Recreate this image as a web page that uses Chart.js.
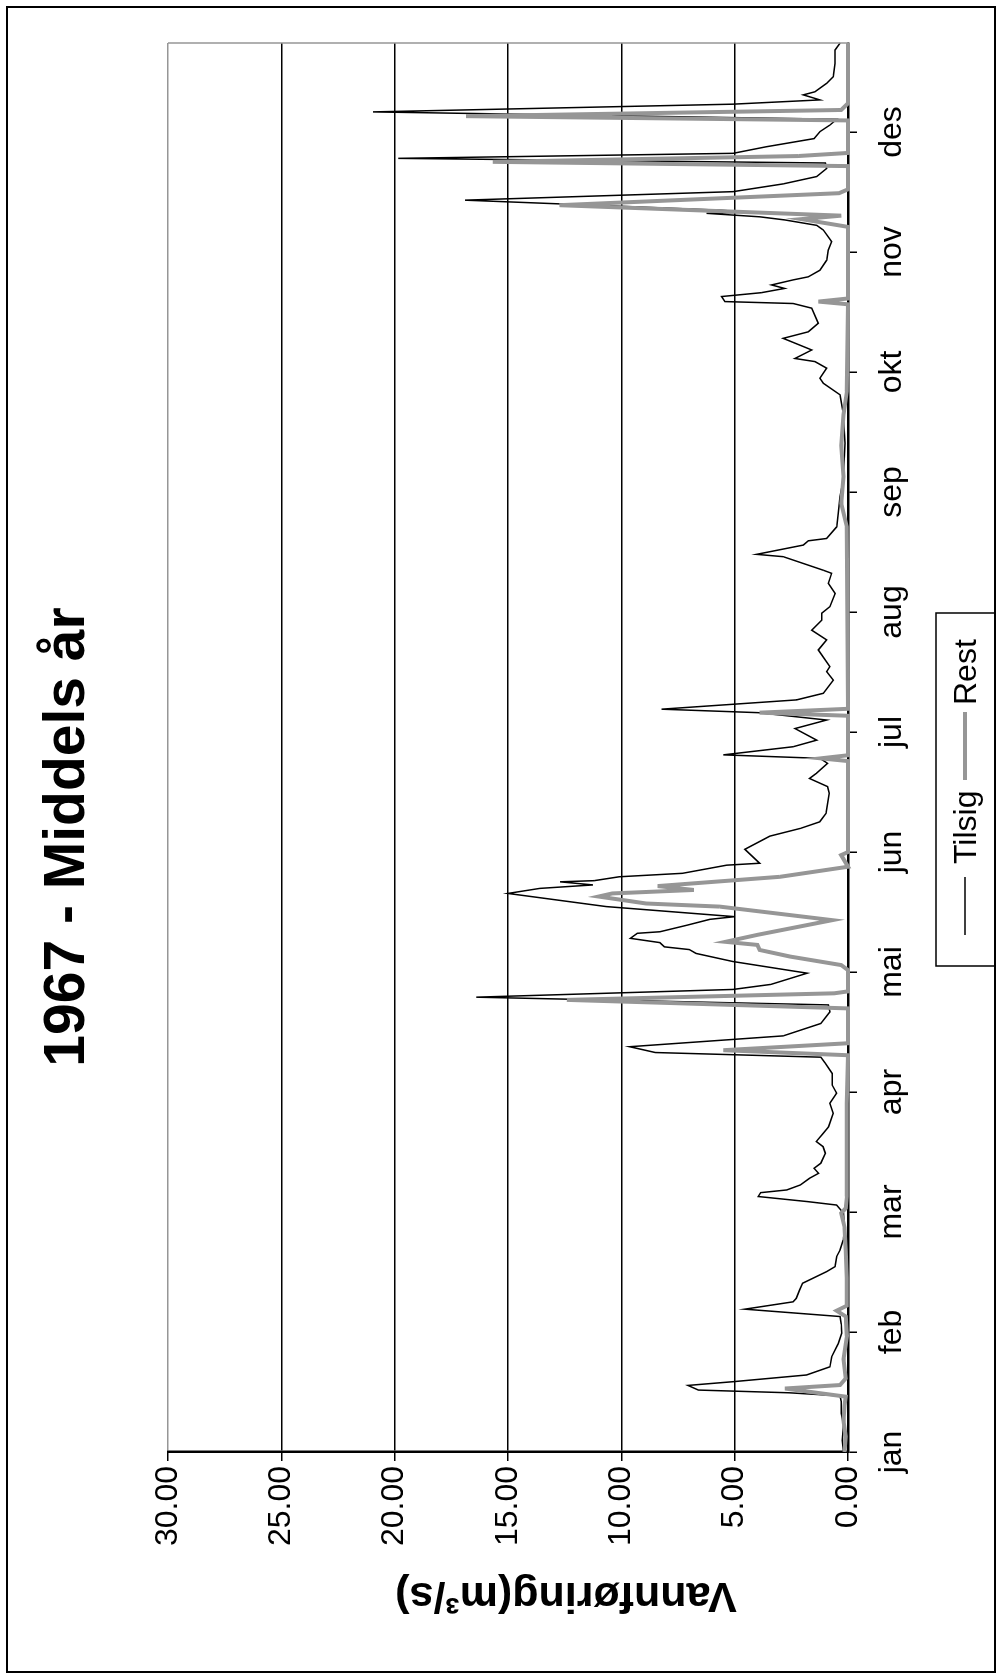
<!DOCTYPE html>
<html>
<head>
<meta charset="utf-8">
<title>1967 - Middels år</title>
<script src="https://cdn.jsdelivr.net/npm/chart.js@4.4.0/dist/chart.umd.min.js"></script>
<style>
  html, body { margin: 0; padding: 0; background: #fff; overflow: hidden; }
  body { width: 1000px; height: 1679px; position: relative; }
  /* chart is laid out landscape and turned a quarter turn, like the original */
  #wrap {
    position: absolute; left: 0; top: 0;
    width: 1679px; height: 1000px;
    transform-origin: 0 0;
    transform: translate(0, 1679px) rotate(-90deg);
  }
</style>
</head>
<body>
<div id="wrap"><canvas id="chart" width="1679" height="1000"></canvas></div>
<script>
// month labels, one tick every 31 days
const monthNames = ['jan', 'feb', 'mar', 'apr', 'mai', 'jun', 'jul', 'aug', 'sep', 'okt', 'nov', 'des'];
const monthTicks = [0, 31, 62, 93, 124, 155, 186, 217, 248, 279, 310, 341];
const valueTicks = [0, 5, 10, 15, 20, 25, 30];

// Tilsig (day of year, m3/s)
const tilsigDays = [0, 3, 7, 10, 13, 14.5, 15.3, 16, 17.2, 18.2, 19.9, 22, 24.6, 28, 30.7, 33, 35, 36.9, 38.8, 39.7,
  41.8, 43.6, 46.6, 47.9, 50.5, 52.2, 54.8, 57.3, 61.7, 63.8, 64.7, 66, 67, 67.7, 69, 70.7, 72, 73.3, 74.6, 77.2,
  78.9, 80.2, 82.3, 84, 87.5, 90.1, 92.7, 94.8, 97.8, 100.4, 102, 103.2, 104.7, 107.5, 110.7, 113.7, 115.5, 117.5, 119.5, 120.8,
  123.7, 126.7, 128.8, 129.8, 130.5, 131.6, 132.7, 134, 134.4, 136.1, 137.6, 138.3, 140.9, 144.3, 145.6, 146.5, 147.3, 147.6, 148.6, 149.5,
  151.6, 152.1, 155.7, 159.1, 161.1, 162.8, 165, 170.2, 171.9, 174, 175.3, 177.9, 179.2, 180.1, 182.2, 183.9, 186.9, 189.1, 191, 191.9,
  194.3, 196, 199.4, 201.6, 202.9, 207.2, 209.8, 212.3, 214.9, 216.7, 218.4, 221.8, 224.4, 227, 227.8, 231.3, 231.9, 234.3, 235.4, 236,
  239, 242.5, 246.8, 251.1, 260.6, 268.3, 273.1, 276.1, 277.4, 280, 281.7, 282.5, 284.7, 287.7, 289.4, 291.6, 295.5, 296.7, 297.2, 298.5,
  299.5, 300.6, 301.5, 302.8, 303.6, 305.3, 307.9, 310.5, 312.7, 315.7, 316.9, 318.3, 319.1, 320, 320.3, 320.8, 323.4, 325.6, 327.6, 329.5,
  331.6, 333, 334.2, 335.5, 337.2, 339.3, 341.1, 342.8, 344.3, 346.2, 348.2, 349.3, 350.6, 351.4, 353.6, 355.3, 358.7, 362.2, 364];
const tilsigValues = [0.2, 0.25, 0.2, 0.3, 0.3, 0.35, 2.6, 6.6, 7.06, 5.0, 1.83, 0.8, 0.72, 0.43, 0.28, 0.3, 0.35, 4.55, 2.42, 2.28,
  2.14, 2.0, 0.94, 0.57, 0.5, 0.35, 0.21, 0.15, 0.2, 0.5, 1.8, 3.96, 3.85, 2.7, 2.1, 1.7, 1.3, 1.5, 1.2, 1.0,
  1.1, 1.4, 1.1, 0.86, 0.65, 0.8, 0.5, 0.7, 0.7, 1.0, 1.2, 8.5, 9.63, 2.86, 1.2, 0.8, 0.87, 16.4, 5.07, 3.4,
  1.8, 5.07, 6.7, 7.0, 8.1, 8.3, 9.6, 9.3, 8.3, 7.1, 6.1, 5.0, 10.66, 15.0, 13.6, 11.25, 12.7, 11.2, 10.1, 7.3,
  5.36, 3.9, 4.55, 3.45, 2.1, 1.25, 0.97, 0.83, 0.9, 1.7, 1.4, 0.9, 1.24, 5.5, 2.42, 1.38, 2.34, 0.94, 3.96, 8.23,
  2.27, 1.09, 0.65, 0.94, 0.8, 1.31, 0.94, 1.6, 1.16, 1.16, 0.8, 0.57, 0.87, 0.72, 1.09, 2.86, 4.03, 1.97, 1.75, 0.94,
  0.5, 0.43, 0.35, 0.21, 0.13, 0.21, 0.35, 1.09, 1.24, 0.94, 1.46, 2.34, 1.6, 2.86, 1.75, 1.31, 1.6, 2.42, 5.43, 5.58,
  3.82, 2.8, 3.37, 2.42, 1.75, 1.24, 0.94, 0.87, 0.72, 1.09, 1.38, 2.8, 3.9, 6.24, 4.5, 5.6, 16.9, 5.07, 2.86, 1.38,
  0.94, 1.0, 19.84, 5.07, 3.6, 1.5, 1.24, 0.8, 0.5, 20.96, 5.07, 1.24, 1.97, 1.46, 0.94, 0.65, 0.57, 0.57, 0.35];

// Rest (day of year, m3/s)
const restDays = [0, 4, 8, 12, 14.3, 16.4, 17.3, 19, 24, 30, 35, 36.5, 37.8, 45, 52, 58, 61.7, 63, 66, 75,
  90, 102.5, 103.8, 105.6, 114.6, 116.8, 118.5, 119, 124.5, 125.8, 128, 129.7, 131, 131.8, 133.6, 137.4, 140.9, 141.7, 143.5, 144.3,
  145.2, 146.2, 148.6, 151.2, 154.2, 155, 178.5, 179.2, 180, 190.2, 191, 192, 239, 245, 252, 260, 268, 274, 296.5, 297.2,
  298, 316.5, 318.5, 319.4, 322.1, 325.2, 326.2, 332.2, 333.3, 334.8, 335.6, 344, 345.1, 346.7, 348.4, 364];
const restValues = [0.15, 0.1, 0.2, 0.15, 0.1, 2.78, 0.35, 0.1, 0.2, 0.05, 0.1, 0.5, 0.05, 0.05, 0.1, 0.15, 0.3, 0.1, 0.05, 0.05,
  0.05, 0, 5.5, 0, 0, 12.4, 0.6, 0, 0, 0.3, 2.56, 3.9, 4.0, 5.4, 4.0, 0.7, 5.66, 8.9, 11.0, 10.4,
  6.8, 8.4, 3.0, 0, 0.3, 0, 0, 1.2, 0, 0, 3.9, 0, 0.05, 0.3, 0.2, 0.3, 0.2, 0.05, 0, 1.3,
  0, 0, 2.05, 0.3, 12.73, 0.4, 0, 0, 15.67, 2.2, 0, 0, 16.85, 0.3, 0, 0];

const FONT = "'Liberation Sans', Arial, sans-serif";
const GRAY = '#969696';

function pairs(xs, ys) {
  return xs.map((x, i) => ({ x: x, y: ys[i] }));
}

// frame, titles and the boxed legend
const decorations = {
  id: 'decorations',
  beforeDraw(chart) {
    const ctx = chart.ctx;
    ctx.save();
    ctx.fillStyle = '#fff';
    ctx.fillRect(0, 0, chart.width, chart.height);
    ctx.restore();
  },
  afterDraw(chart) {
    const ctx = chart.ctx;
    const area = chart.chartArea;
    ctx.save();

    // grey right edge of plot
    ctx.strokeStyle = GRAY;
    ctx.lineWidth = 1.5;
    ctx.beginPath();
    ctx.moveTo(area.right, area.top);
    ctx.lineTo(area.right, area.bottom);
    ctx.stroke();

    // outer frame
    ctx.strokeStyle = '#000';
    ctx.lineWidth = 2;
    ctx.strokeRect(7, 7, 1665, 988);

    // title
    ctx.fillStyle = '#000';
    ctx.textAlign = 'center';
    ctx.textBaseline = 'middle';
    ctx.font = 'bold 57px ' + FONT;
    ctx.fillText('1967 - Middels år', 842, 68);

    // y axis title
    ctx.save();
    ctx.translate(84, 566);
    ctx.rotate(-Math.PI / 2);
    ctx.font = 'bold 43px ' + FONT;
    ctx.fillText('Vannføring(m³/s)', 0, 0);
    ctx.restore();

    // legend
    ctx.lineWidth = 1.5;
    ctx.strokeStyle = '#000';
    ctx.strokeRect(713, 936, 353, 59);
    const ds = chart.data.datasets;
    const items = [
      { x1: 744, x2: 802, tx: 815, d: ds[0] },
      { x1: 899, x2: 967, tx: 974, d: ds[1] }
    ];
    ctx.font = '32px ' + FONT;
    ctx.textAlign = 'left';
    items.forEach(it => {
      ctx.strokeStyle = it.d.borderColor;
      ctx.lineWidth = it.d.borderWidth;
      ctx.beginPath();
      ctx.moveTo(it.x1, 965);
      ctx.lineTo(it.x2, 965);
      ctx.stroke();
      ctx.fillStyle = '#000';
      ctx.fillText(it.d.label, it.tx, 967);
    });
    ctx.restore();
  }
};

new Chart(document.getElementById('chart'), {
  type: 'line',
  data: {
    datasets: [
      {
        label: 'Tilsig',
        data: pairs(tilsigDays, tilsigValues),
        borderColor: '#000',
        borderWidth: 1.5,
        pointRadius: 0,
        tension: 0,
        order: 1,
        clip: 4
      },
      {
        label: 'Rest',
        data: pairs(restDays, restValues),
        borderColor: GRAY,
        borderWidth: 4,
        pointRadius: 0,
        tension: 0,
        order: 0,
        clip: 4
      }
    ]
  },
  options: {
    responsive: false,
    animation: false,
    layout: { padding: { left: 0, top: 168, right: 43, bottom: 0 } },
    plugins: {
      legend: { display: false },
      title: { display: false },
      tooltip: { enabled: false }
    },
    scales: {
      x: {
        type: 'linear',
        min: 0,
        max: 364,
        afterBuildTicks: (scale) => { scale.ticks = monthTicks.map(v => ({ value: v })); },
        afterFit: (scale) => { scale.height = 152; },
        ticks: {
          autoSkip: false,
          maxRotation: 0,
          padding: 16,
          color: '#000',
          font: { family: FONT, size: 32 },
          callback: (v) => monthNames[Math.round(v / 31)]
        },
        grid: { drawOnChartArea: false, drawTicks: true, tickLength: 9, color: '#000', lineWidth: 1.5 },
        border: { display: true, color: '#000', width: 2.5 }
      },
      y: {
        min: 0,
        max: 30,
        afterBuildTicks: (scale) => { scale.ticks = valueTicks.map(v => ({ value: v })); },
        afterFit: (scale) => { scale.width = 227; },
        ticks: {
          padding: 5,
          color: '#000',
          font: { family: FONT, size: 32 },
          callback: (v) => Number(v).toFixed(2)
        },
        grid: {
          drawTicks: true,
          tickLength: 9,
          lineWidth: 1.5,
          color: (c) => (c.tick && c.tick.value === 30 ? GRAY : '#000'),
          tickColor: '#000'
        },
        border: { display: true, color: '#000', width: 2.5 }
      }
    }
  },
  plugins: [decorations]
});
</script>
</body>
</html>
